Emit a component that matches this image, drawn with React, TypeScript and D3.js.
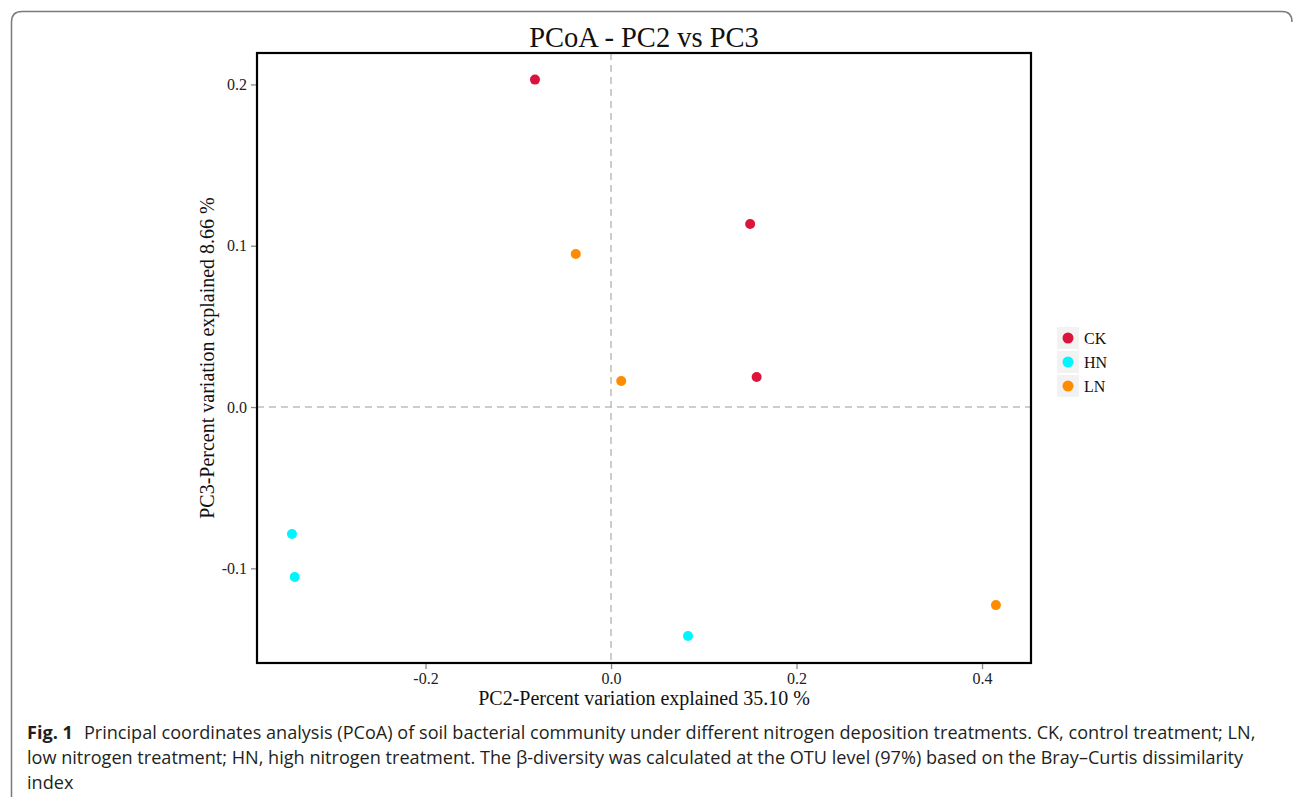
import React, { useEffect, useRef } from 'react'
import * as d3 from 'd3'

const groups = ['CK', 'HN', 'LN']
const groupColors = ['#DC143C', '#00F5FF', '#FF8C00']

const sampleGroup = ['CK', 'CK', 'CK', 'HN', 'HN', 'HN', 'LN', 'LN', 'LN']
const pc2Values = [-0.082, 0.150, 0.157, -0.344, -0.341, 0.083, -0.038, 0.011, 0.415]
const pc3Values = [0.203, 0.1135, 0.0186, -0.0787, -0.1054, -0.142, 0.0949, 0.0161, -0.1228]

const xTicks = [-0.2, 0.0, 0.2, 0.4]
const yTicks = [-0.1, 0.0, 0.1, 0.2]

const captionLines = [
  'Principal coordinates analysis (PCoA) of soil bacterial community under different nitrogen deposition treatments. CK, control treatment; LN,',
  'low nitrogen treatment; HN, high nitrogen treatment. The β-diversity was calculated at the OTU level (97%) based on the Bray–Curtis dissimilarity',
  'index'
]

const W = 1293
const H = 797
const serif = '"Liberation Serif", "Times New Roman", serif'
const sans = '"Open Sans", "Noto Sans", sans-serif'

export default function App() {
  const ref = useRef<SVGSVGElement>(null)

  useEffect(() => {
    const svg = d3.select(ref.current)
    svg.selectAll('*').remove()

    // figure frame
    svg.append('path')
      .attr('d', `M11.5,${H} L11.5,22 Q11.5,11.5 22,11.5 L1282,11.5 Q1292,11.5 1292,22`)
      .attr('fill', 'none')
      .attr('stroke', '#7a7a7a')
      .attr('stroke-width', 1.5)

    const m = { left: 257, top: 53, right: 1031, bottom: 663 }
    const x = d3.scaleLinear().domain([-0.3817, 0.4528]).range([m.left, m.right])
    const y = d3.scaleLinear().domain([-0.1587, 0.2195]).range([m.bottom, m.top])

    // zero lines
    svg.append('line')
      .attr('x1', x(0)).attr('x2', x(0)).attr('y1', m.top).attr('y2', m.bottom)
      .attr('stroke', '#bdbdbd').attr('stroke-width', 1.5).attr('stroke-dasharray', '7,5')
    svg.append('line')
      .attr('x1', m.left).attr('x2', m.right).attr('y1', y(0)).attr('y2', y(0))
      .attr('stroke', '#bdbdbd').attr('stroke-width', 1.5).attr('stroke-dasharray', '7,5')

    // points
    const color = d3.scaleOrdinal<string, string>().domain(groups).range(groupColors)
    svg.append('g').selectAll('circle')
      .data(pc2Values.map((v, i) => ({ x: v, y: pc3Values[i], g: sampleGroup[i] })))
      .enter()
      .append('circle')
      .attr('cx', d => x(d.x))
      .attr('cy', d => y(d.y))
      .attr('r', 5)
      .attr('fill', d => color(d.g))

    // panel border
    svg.append('rect')
      .attr('x', m.left).attr('y', m.top)
      .attr('width', m.right - m.left).attr('height', m.bottom - m.top)
      .attr('fill', 'none').attr('stroke', '#000').attr('stroke-width', 2.2)

    // axes (plain hyphen for negatives, like the original)
    const fmt = (d: d3.NumberValue) => d3.format('.1f')(d).replace('−', '-')
    const xAxis = svg.append('g')
      .attr('transform', `translate(0,${m.bottom + 1})`)
      .call(d3.axisBottom(x).tickValues(xTicks).tickSize(5).tickPadding(4).tickFormat(fmt))
    const yAxis = svg.append('g')
      .attr('transform', `translate(${m.left - 1},0)`)
      .call(d3.axisLeft(y).tickValues(yTicks).tickSize(5).tickPadding(4).tickFormat(fmt))
    ;[xAxis, yAxis].forEach(a => {
      a.select('.domain').remove()
      a.selectAll('line').attr('stroke', '#888').attr('stroke-width', 1.3)
      a.selectAll('text').attr('font-family', serif).attr('font-size', 16).attr('fill', '#222')
    })

    // title and axis labels
    svg.append('text')
      .attr('x', (m.left + m.right) / 2).attr('y', 47)
      .attr('text-anchor', 'middle')
      .attr('font-family', serif).attr('font-size', 28.5).attr('fill', '#111')
      .text('PCoA - PC2 vs PC3')
    svg.append('text')
      .attr('x', (m.left + m.right) / 2).attr('y', 705)
      .attr('text-anchor', 'middle')
      .attr('font-family', serif).attr('font-size', 20).attr('fill', '#111')
      .text('PC2-Percent variation explained 35.10 %')
    svg.append('text')
      .attr('transform', `translate(214,${(m.top + m.bottom) / 2}) rotate(-90)`)
      .attr('text-anchor', 'middle')
      .attr('font-family', serif).attr('font-size', 20).attr('fill', '#111')
      .text('PC3-Percent variation explained 8.66 %')

    // legend
    const lg = svg.append('g').attr('transform', 'translate(1057,327)')
    groups.forEach((g, i) => {
      const row = lg.append('g').attr('transform', `translate(0,${i * 24})`)
      row.append('rect').attr('width', 22).attr('height', 22).attr('fill', '#f2f2f2')
      row.append('circle').attr('cx', 11).attr('cy', 11).attr('r', 5.5).attr('fill', color(g))
      row.append('text')
        .attr('x', 27).attr('y', 16.5)
        .attr('font-family', serif).attr('font-size', 16).attr('fill', '#111')
        .text(g)
    })

    // caption
    const cap = svg.append('g')
    captionLines.forEach((line, i) => {
      const t = cap.append('text')
        .attr('x', 27).attr('y', 739 + i * 25)
        .attr('font-family', sans).attr('font-size', 18.1).attr('fill', '#231f20')
      if (i === 0) {
        t.append('tspan').attr('font-weight', 'bold').text('Fig. 1')
        t.append('tspan').attr('dx', 11).text(line)
      } else {
        t.text(line)
      }
    })
  }, [])

  return (
    <div style={{ position: 'absolute', left: 0, top: 0 }}>
      <svg ref={ref} width={W} height={H} style={{ display: 'block', background: '#fff' }} />
    </div>
  )
}
